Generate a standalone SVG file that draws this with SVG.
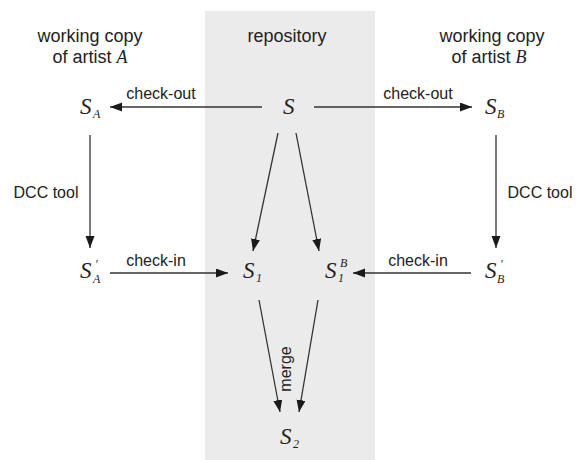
<svg xmlns="http://www.w3.org/2000/svg" width="579" height="460" viewBox="0 0 579 460">
  <style>
    .hdr { font-family: "Liberation Sans", Arial, sans-serif; font-size: 18px; fill: #222; text-anchor: middle; }
    .lbl { font-family: "Liberation Sans", Arial, sans-serif; font-size: 16px; fill: #222; text-anchor: middle; }
    .sym { font-family: "Liberation Serif", "Times New Roman", serif; font-style: italic; font-size: 23px; fill: #222; }
    .idx { font-family: "Liberation Serif", "Times New Roman", serif; font-style: italic; font-size: 12px; fill: #222; }
    .it { font-family: "Liberation Serif", "Times New Roman", serif; font-style: italic; }
    .edge { stroke: #333; stroke-width: 1.3; fill: none; marker-end: url(#arrow); }
  </style>
  <defs>
    <marker id="arrow" markerUnits="userSpaceOnUse" markerWidth="12" markerHeight="10" refX="12" refY="4.5" orient="auto">
      <path d="M0,0 L12,4.5 L0,9 z" fill="#1a1a1a"/>
    </marker>
  </defs>

  <rect x="0" y="0" width="579" height="460" fill="#ffffff"/>

  <!-- repository column -->
  <rect id="repository-area" x="205" y="11" width="170" height="449" fill="#ebebeb"/>

  <!-- column headers -->
  <g id="headers">
    <text class="hdr" x="90" y="42">working copy</text>
    <text class="hdr" x="90" y="63">of artist <tspan class="it">A</tspan></text>
    <text class="hdr" x="287" y="42">repository</text>
    <text class="hdr" x="492" y="42">working copy</text>
    <text class="hdr" x="489" y="63">of artist <tspan class="it">B</tspan></text>
  </g>

  <!-- connectors -->
  <g id="connectors">
    <line class="edge" x1="262" y1="107" x2="110" y2="107"/>
    <line class="edge" x1="314" y1="107" x2="472" y2="107"/>
    <line class="edge" x1="90" y1="135" x2="90" y2="248"/>
    <line class="edge" x1="496" y1="135" x2="496" y2="248"/>
    <line class="edge" x1="278" y1="133" x2="253" y2="251"/>
    <line class="edge" x1="296" y1="133" x2="319" y2="251"/>
    <line class="edge" x1="110" y1="273" x2="228" y2="273"/>
    <line class="edge" x1="471" y1="273" x2="353" y2="273"/>
    <line class="edge" x1="259" y1="300" x2="280" y2="412"/>
    <line class="edge" x1="318" y1="300" x2="299" y2="412"/>

    <text class="lbl" x="161" y="99">check-out</text>
    <text class="lbl" x="418" y="99">check-out</text>
    <text class="lbl" x="46" y="198">DCC tool</text>
    <text class="lbl" x="540" y="198">DCC tool</text>
    <text class="lbl" x="156" y="266">check-in</text>
    <text class="lbl" x="418" y="266">check-in</text>
    <text class="lbl" transform="translate(291,369) rotate(-90)">merge</text>
  </g>

  <!-- states -->
  <g id="S">
    <text class="sym" x="283" y="114">S</text>
  </g>
  <g id="S_A">
    <text class="sym" x="80" y="114">S</text>
    <text class="idx" x="93" y="118" font-size="10">A</text>
  </g>
  <g id="S_B">
    <text class="sym" x="485" y="114">S</text>
    <text class="idx" x="497" y="118" font-size="10">B</text>
  </g>
  <g id="S_A_prime">
    <text class="sym" x="80" y="278">S</text>
    <text class="idx" x="95" y="268">′</text>
    <text class="idx" x="93" y="283" font-size="10">A</text>
  </g>
  <g id="S_B_prime">
    <text class="sym" x="485" y="278">S</text>
    <text class="idx" x="500" y="268">′</text>
    <text class="idx" x="497" y="283" font-size="10">B</text>
  </g>
  <g id="S_1">
    <text class="sym" x="243" y="278">S</text>
    <text class="idx" x="256" y="282">1</text>
  </g>
  <g id="S_1_B">
    <text class="sym" x="325" y="278">S</text>
    <text class="idx" x="338" y="282">1</text>
    <text class="idx" x="340" y="267" font-size="10">B</text>
  </g>
  <g id="S_2">
    <text class="sym" x="280" y="444">S</text>
    <text class="idx" x="293" y="448">2</text>
  </g>
</svg>
